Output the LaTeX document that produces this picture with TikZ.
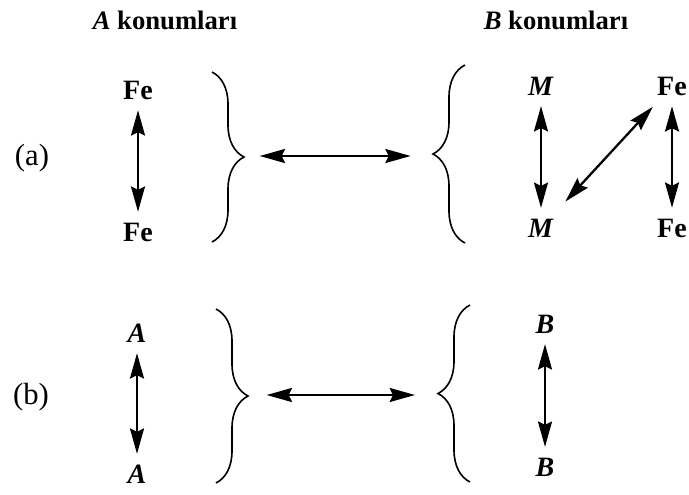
\documentclass[tikz,border=0pt]{standalone}
\usepackage{fontspec}
\setmainfont{Liberation Serif}
\usetikzlibrary{arrows.meta,decorations.pathreplacing}
\begin{document}
\begin{tikzpicture}[x=0.75pt,y=-0.75pt,
  lbl/.style={inner sep=1pt,font=\fontsize{21}{24}\selectfont\bfseries},
  hdr/.style={inner sep=0pt,font=\fontsize{20}{23}\selectfont\bfseries},
  tag/.style={inner sep=0pt,font=\fontsize{23}{26}\selectfont},
  link/.style={{Stealth[length=19pt,width=10.5pt,inset=2.5pt]}-{Stealth[length=19pt,width=10.5pt,inset=2.5pt]},line width=1.7pt,shorten <=7pt,shorten >=7pt},
  brc/.style={decorate,decoration={brace,amplitude=24pt},line width=1.2pt}]
\useasboundingbox (0,0) rectangle (689,494);
% headers
\node[hdr] (hA) at (165,20) {\textit{A} konumları};
\node[hdr] (hB) at (556,20) {\textit{B} konumları};
% tags
\node[tag] (la) at (32,158) {(a)};
\node[tag] (lb) at (31,397) {(b)};
% (a) left
\node[lbl] (fe1) at (138,90) {Fe};
\node[lbl] (fe2) at (138,232) {Fe};
\draw[link] (fe1) -- (fe2);
% (a) right
\node[lbl] (m1) at (541,86) {\textit{M}};
\node[lbl] (m2) at (541,228) {\textit{M}};
\node[lbl] (fe3) at (672,86) {Fe};
\node[lbl] (fe4) at (672,228) {Fe};
\draw[link] (m1) -- (m2);
\draw[link] (fe3) -- (fe4);
\draw[link,shorten <=16pt,shorten >=10pt] (m2) -- (fe3);
% (a) braces
\draw[brc] (212,72) -- (212,242);
\draw[brc] (465,243) -- (465,65);
\coordinate (ta1) at (245,156);
\coordinate (ta2) at (432,156);
\draw[link,shorten <=11pt,shorten >=16pt] (ta1) -- (ta2);
% (b) left
\node[lbl] (a1) at (137,333) {\textit{A}};
\node[lbl] (a2) at (137,474) {\textit{A}};
\draw[link] (a1) -- (a2);
% (b) right
\node[lbl] (b1) at (545,324) {\textit{B}};
\node[lbl] (b2) at (545,467) {\textit{B}};
\draw[link] (b1) -- (b2);
% (b) braces
\draw[brc] (216,309) -- (216,483);
\draw[brc] (470,482) -- (470,305);
\coordinate (tb1) at (248,395);
\coordinate (tb2) at (435,395);
\draw[link,shorten <=14pt,shorten >=15pt] (tb1) -- (tb2);
\end{tikzpicture}
\end{document}
